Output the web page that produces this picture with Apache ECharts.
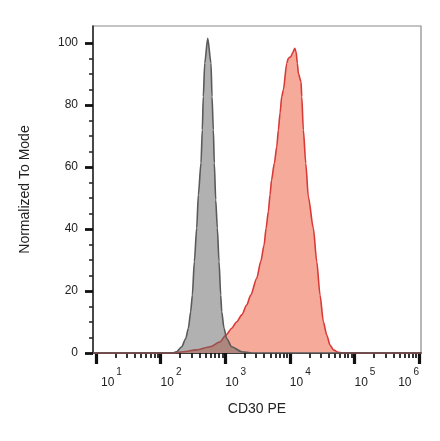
<!DOCTYPE html>
<html><head><meta charset="utf-8">
<script src="https://cdn.jsdelivr.net/npm/echarts@6/dist/echarts.min.js"></script>
<style>html,body{margin:0;padding:0;background:#fff}#c{width:440px;height:441px}</style>
</head><body><div id="c"></div>
<script>
// ---- data ----
const isoX = [9, 150, 177, 212, 245, 269, 292, 310, 333, 362, 384, 422, 442, 458, 482, 536, 603, 625, 655, 678, 713, 755, 802, 852, 883, 958, 1054, 1259, 1800, 2600, 1.07e6];
const isoY = [0, 0, 0.4, 2.0, 4.7, 8.0, 13.3, 18.7, 29.5, 40.3, 51, 61.3, 72, 82.7, 93.5, 101.5, 93.5, 82.7, 72, 61.3, 49.4, 40.3, 29.5, 18.7, 13.3, 8.0, 4.7, 2.0, 0.4, 0, 0];
const cdX = [9, 150, 224, 362, 582, 832, 1028, 1262, 1507, 1801, 2152, 2482, 3074, 3548, 3992, 4285, 4648, 4936, 5207, 5754, 6270, 6640, 7047, 7491, 7930, 8950, 9480, 10330, 11090, 11900, 12480, 13070, 13550, 14900, 15280, 16180, 17630, 19330, 23120, 26070, 29330, 33010, 37240, 41890, 47140, 56340, 70000, 1.07e6];
const cdY = [0, 0, 0.4, 1.0, 2.0, 3.6, 5.8, 8.0, 10.1, 12.3, 15.5, 18.7, 24.1, 29.5, 34.8, 40.2, 45.6, 51, 55.8, 61.2, 66.5, 71.9, 77.3, 82.7, 84.8, 93.5, 95.1, 95.6, 96.9, 98.3, 97.2, 93.5, 90.2, 87.5, 82.7, 72, 61.2, 50.4, 40.2, 29.5, 18.7, 10.1, 5.8, 2.6, 1.0, 0.2, 0, 0];
const xMajorExps = [1, 2, 3, 4, 5, 6];
const yMajorTicks = [0, 20, 40, 60, 80, 100];
const yMinorTicks = [5, 10, 15, 25, 30, 35, 45, 50, 55, 65, 70, 75, 85, 90, 95];
const xAxisTitle = 'CD30 PE';
const yAxisTitle = 'Normalized To Mode';

// ---- build ----
const xMajor = xMajorExps.map(e => Math.pow(10, e));
const xMinor = [];
xMajorExps.slice(0, -1).forEach(e => { for (let m = 2; m <= 9; m++) xMinor.push(m * Math.pow(10, e)); });
const zip = (a, b) => a.map((v, i) => [v, b[i]]);
const XMIN = 9, XMAX = 1.07e6, YMAX = 105.5;
const font = 'Liberation Sans, Arial, sans-serif';

const chart = echarts.init(document.getElementById('c'), null, {renderer: 'canvas'});
chart.setOption({
  animation: false,
  grid: {left: 93, right: 19, top: 26, bottom: 88, show: true, borderColor: '#8a8a8a', borderWidth: 1.2},
  xAxis: [{
    type: 'log', min: XMIN, max: XMAX, logBase: 10,
    name: xAxisTitle, nameLocation: 'middle', nameGap: 49,
    nameTextStyle: {fontFamily: font, fontSize: 14, color: '#222'},
    axisLine: {show: true, onZero: false, lineStyle: {color: '#111', width: 1.6}},
    axisTick: {show: true, customValues: xMajor, length: 11, lineStyle: {color: '#111', width: 3.2}},
    axisLabel: {
      customValues: xMajor, align: 'left', alignMaxLabel: 'right', margin: 14,
      formatter: v => { const e = Math.round(Math.log10(v)); return (e === 1 ? '{b1|10}' : '{b|10}') + '{s|' + e + '}'; },
      rich: {
        b: {fontFamily: font, fontSize: 12, color: '#222', lineHeight: 22, verticalAlign: 'bottom'},
        b1: {fontFamily: font, fontSize: 12, color: '#222', lineHeight: 22, verticalAlign: 'bottom', padding: [0, 0, 0, 5]},
        s: {fontFamily: font, fontSize: 10, color: '#222', lineHeight: 22, verticalAlign: 'top', padding: [0, 0, 0, 2]}
      }
    },
    splitLine: {show: false}
  }, {
    type: 'log', min: XMIN, max: XMAX, logBase: 10, position: 'bottom',
    axisLine: {show: false},
    axisTick: {show: true, customValues: xMinor, length: 5, lineStyle: {color: '#111', width: 1.7}},
    axisLabel: {show: false}, splitLine: {show: false}
  }],
  yAxis: [{
    type: 'value', min: 0, max: YMAX,
    name: yAxisTitle, nameLocation: 'middle', nameGap: 61, nameRotate: 90,
    nameTextStyle: {fontFamily: font, fontSize: 14, color: '#222'},
    axisLine: {show: true, lineStyle: {color: '#222', width: 1.5}},
    axisTick: {show: true, customValues: yMajorTicks, length: 8, lineStyle: {color: '#111', width: 2.8}},
    axisLabel: {customValues: yMajorTicks, margin: 15, fontFamily: font, fontSize: 12, color: '#222'},
    splitLine: {show: false}
  }, {
    type: 'value', min: 0, max: YMAX, position: 'left',
    axisLine: {show: false},
    axisTick: {show: true, customValues: yMinorTicks, length: 4, lineStyle: {color: '#222', width: 1.5}},
    axisLabel: {show: false}, splitLine: {show: false}
  }],
  series: [{
    name: 'CD30', type: 'line', data: zip(cdX, cdY), showSymbol: false,
    smooth: 0.25, smoothMonotone: 'x',
    lineStyle: {color: '#d83a38', width: 1.6},
    areaStyle: {color: '#f6aa99', opacity: 1},
    z: 2
  }, {
    name: 'Isotype', type: 'line', data: zip(isoX, isoY), showSymbol: false,
    smooth: 0.25, smoothMonotone: 'x',
    lineStyle: {color: '#5a5a5a', width: 1.6},
    areaStyle: {color: 'rgba(100,100,100,0.5)', opacity: 1},
    z: 3
  }]
});
</script></body></html>
